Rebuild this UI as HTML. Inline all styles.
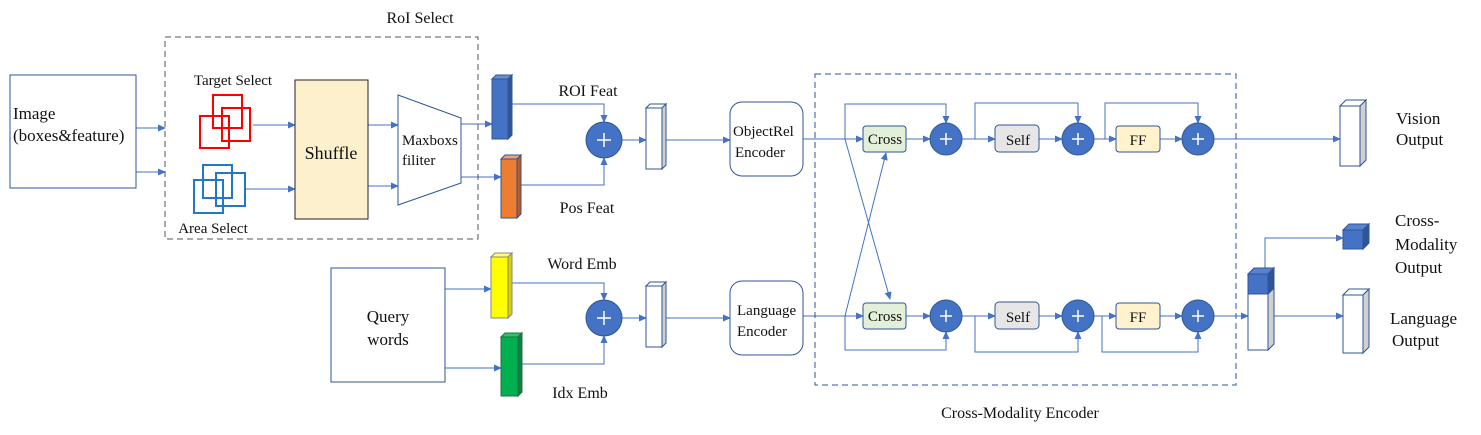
<!DOCTYPE html>
<html><head><meta charset="utf-8"><style>
html,body{margin:0;padding:0;background:#fff}
svg{display:block}
text{font-family:"Liberation Serif","Times New Roman",serif;fill:#111}
</style></head><body>
<svg width="1481" height="435" viewBox="0 0 1481 435" xmlns="http://www.w3.org/2000/svg" font-family="Liberation Serif, serif">
<defs>
<marker id="a" markerWidth="8" markerHeight="8" refX="7" refY="4" orient="auto" markerUnits="userSpaceOnUse">
<path d="M0,0.5 L8,4 L0,7.5 z" fill="#4472c4"/></marker>
</defs>
<g fill="none" stroke="#4472c4" stroke-width="1" marker-end="url(#a)">
<path d="M136,128H165"/><path d="M136,172H165"/>
<path d="M253,125H295"/><path d="M245,189H295"/>
<path d="M368,125H398"/><path d="M368,186H398"/>
<path d="M461,124H492"/><path d="M461,177H501"/>
<path d="M508,104H604V122"/><path d="M517,185H604V158"/>
<path d="M622,140H646"/><path d="M666,140H730"/>
<path d="M445,289H491"/><path d="M445,368H501"/>
<path d="M508,283H604V300"/><path d="M518,364H604V336"/>
<path d="M622,318H646"/><path d="M666,318H730"/>
<path d="M803,139H863"/><path d="M906,139H930"/><path d="M962,139H995"/><path d="M1039,139H1062"/><path d="M1094,139H1116"/><path d="M1160,139H1182"/>
<path d="M803,316H863"/><path d="M906,316H930"/><path d="M962,316H995"/><path d="M1039,316H1062"/><path d="M1094,316H1116"/><path d="M1160,316H1182"/>
<path d="M1214,139H1340"/><path d="M1214,316H1248"/>
<path d="M845,139V104H946V123"/><path d="M975,139V103H1078V123"/><path d="M1105,139V103H1198V123"/>
<path d="M845,316V350H946V332"/><path d="M975,316V352H1078V332"/><path d="M1102,316V352H1198V332"/>
<path d="M845,139L890,299"/><path d="M845,316L886,153"/>
<path d="M1265,268V238H1343"/><path d="M1272,316H1343"/>
</g>
<rect x="10" y="75" width="126" height="113" fill="#fff" stroke="#2f5597"/>
<text x="13" y="119" font-size="17">Image</text>
<text x="13" y="141" font-size="17">(boxes&amp;feature)</text>
<rect x="165" y="37" width="313" height="202" fill="none" stroke="#555" stroke-dasharray="6,4"/>
<text x="420" y="23" font-size="16" text-anchor="middle">RoI Select</text>
<text x="233" y="85" font-size="15" text-anchor="middle">Target Select</text>
<g fill="none" stroke="#f00" stroke-width="2"><rect x="213" y="95" width="29" height="33"/><rect x="200" y="116" width="29" height="32"/><rect x="222" y="108" width="28" height="33"/></g>
<g fill="none" stroke="#1f78c8" stroke-width="2"><rect x="203" y="165" width="29" height="33"/><rect x="194" y="180" width="29" height="33"/><rect x="216" y="173" width="29" height="33"/></g>
<text x="213" y="233" font-size="15" text-anchor="middle">Area Select</text>
<rect x="295" y="80" width="73" height="139" fill="#fdf0cc" stroke="#222"/>
<text x="331" y="159" font-size="18" text-anchor="middle" font-family="Liberation Serif, serif">Shuffle</text>
<path d="M398,95L461,118V183L398,205Z" fill="#fff" stroke="#2f5597"/>
<text x="402" y="145" font-size="15">Maxboxs</text><text x="402" y="165" font-size="15">filiter</text>
<g stroke="#2f5597" stroke-width="1">
<path d="M492,79h16v60h-16z" fill="#4472c4"/><path d="M492,79l4,-4h16l-4,4z" fill="#6a8fd0"/><path d="M508,79l4,-4v60l-4,4z" fill="#2f5597"/>
<path d="M501,159h16v59h-16z" fill="#ed7d31"/><path d="M501,159l4,-4h16l-4,4z" fill="#f4a070"/><path d="M517,159l4,-4v59l-4,4z" fill="#c05a1a"/>
<path d="M491,257h17v61h-17z" fill="#ffff00" stroke="#888"/><path d="M491,257l4,-4h17l-4,4z" fill="#ffff66" stroke="#888"/><path d="M508,257l4,-4v61l-4,4z" fill="#d4d400" stroke="#888"/>
<path d="M501,337h17v59h-17z" fill="#00b050" stroke="#207040"/><path d="M501,337l4,-4h17l-4,4z" fill="#30c070" stroke="#207040"/><path d="M518,337l4,-4v59l-4,4z" fill="#108040" stroke="#207040"/>
<path d="M646,108h16v61h-16z" fill="#fff"/><path d="M646,108l4,-4h16l-4,4z" fill="#fff"/><path d="M662,108l4,-4v61l-4,4z" fill="#d0d0d0"/>
<path d="M646,286h16v61h-16z" fill="#fff"/><path d="M646,286l4,-4h16l-4,4z" fill="#fff"/><path d="M662,286l4,-4v61l-4,4z" fill="#d0d0d0"/>
<path d="M1340,106h20v60h-20z" fill="#fff"/><path d="M1340,106l6,-6h20l-6,6z" fill="#fff"/><path d="M1360,106l6,-6v60l-6,6z" fill="#d0d0d0"/>
<path d="M1343,230h20v19h-20z" fill="#4472c4"/><path d="M1343,230l6,-6h20l-6,6z" fill="#5a82cc"/><path d="M1363,230l6,-6v19l-6,6z" fill="#2f5597"/>
<path d="M1343,295h20v58h-20z" fill="#fff"/><path d="M1343,295l6,-6h20l-6,6z" fill="#fff"/><path d="M1363,295l6,-6v58l-6,6z" fill="#d0d0d0"/>
<path d="M1248,294h20v56h-20z" fill="#fff"/><path d="M1248,274h20v20h-20z" fill="#4472c4"/><path d="M1248,274l6,-6h20l-6,6z" fill="#5a82cc"/><path d="M1268,274l6,-6v76l-6,6z" fill="#d0d0d0"/><path d="M1268,274l6,-6v20l-6,6z" fill="#2f5597"/>
</g>
<text x="588" y="96" font-size="16" text-anchor="middle">ROI Feat</text>
<text x="587" y="213" font-size="16" text-anchor="middle">Pos Feat</text>
<text x="582" y="269" font-size="16" text-anchor="middle">Word Emb</text>
<text x="580" y="398" font-size="16" text-anchor="middle">Idx Emb</text>
<rect x="331" y="268" width="114" height="114" fill="#fff" stroke="#2f5597"/>
<text x="388" y="322" font-size="17" text-anchor="middle">Query</text><text x="388" y="345" font-size="17" text-anchor="middle">words</text>
<rect x="730" y="102" width="73" height="74" rx="12" fill="#fff" stroke="#2f5597"/>
<text x="733" y="136" font-size="15">ObjectRel</text><text x="735" y="157" font-size="15">Encoder</text>
<rect x="730" y="281" width="73" height="74" rx="12" fill="#fff" stroke="#2f5597"/>
<text x="737" y="315" font-size="15">Language</text><text x="737" y="336" font-size="15">Encoder</text>
<rect x="815" y="74" width="421" height="311" fill="none" stroke="#2f5597" stroke-dasharray="6,4"/>
<text x="1020" y="418" font-size="16" text-anchor="middle">Cross-Modality Encoder</text>
<g stroke="#2f5597" stroke-width="1">
<rect x="863" y="126" width="43" height="26" rx="3" fill="#e2efd9"/><rect x="995" y="125" width="44" height="27" rx="4" fill="#e7e6e6"/><rect x="1116" y="126" width="44" height="26" rx="3" fill="#fff2cc"/>
<rect x="863" y="303" width="43" height="26" rx="3" fill="#e2efd9"/><rect x="995" y="302" width="44" height="27" rx="4" fill="#e7e6e6"/><rect x="1116" y="303" width="44" height="26" rx="3" fill="#fff2cc"/>
</g>
<g font-size="15" text-anchor="middle"><text x="885" y="144">Cross</text><text x="1018" y="145">Self</text><text x="1138" y="145">FF</text>
<text x="885" y="321">Cross</text><text x="1018" y="322">Self</text><text x="1138" y="322">FF</text></g>
<g fill="#4472c4" stroke="#2f5597"><circle cx="604" cy="140" r="18"/><circle cx="604" cy="318" r="18"/>
<circle cx="946" cy="139" r="16"/><circle cx="1078" cy="139" r="16"/><circle cx="1198" cy="139" r="16"/>
<circle cx="946" cy="316" r="16"/><circle cx="1078" cy="316" r="16"/><circle cx="1198" cy="316" r="16"/></g>
<g stroke="#fff" stroke-width="1.5"><path d="M597,140h14M604,133v14"/><path d="M597,318h14M604,311v14"/>
<path d="M940,139h12M946,133v12M1072,139h12M1078,133v12M1192,139h12M1198,133v12"/>
<path d="M940,316h12M946,310v12M1072,316h12M1078,310v12M1192,316h12M1198,310v12"/></g>
<g font-size="17"><text x="1396" y="124">Vision</text><text x="1396" y="145">Output</text>
<text x="1395" y="226">Cross-</text><text x="1395" y="250">Modality</text><text x="1395" y="273">Output</text>
<text x="1390" y="324">Language</text><text x="1392" y="346">Output</text></g>
</svg>
</body></html>
